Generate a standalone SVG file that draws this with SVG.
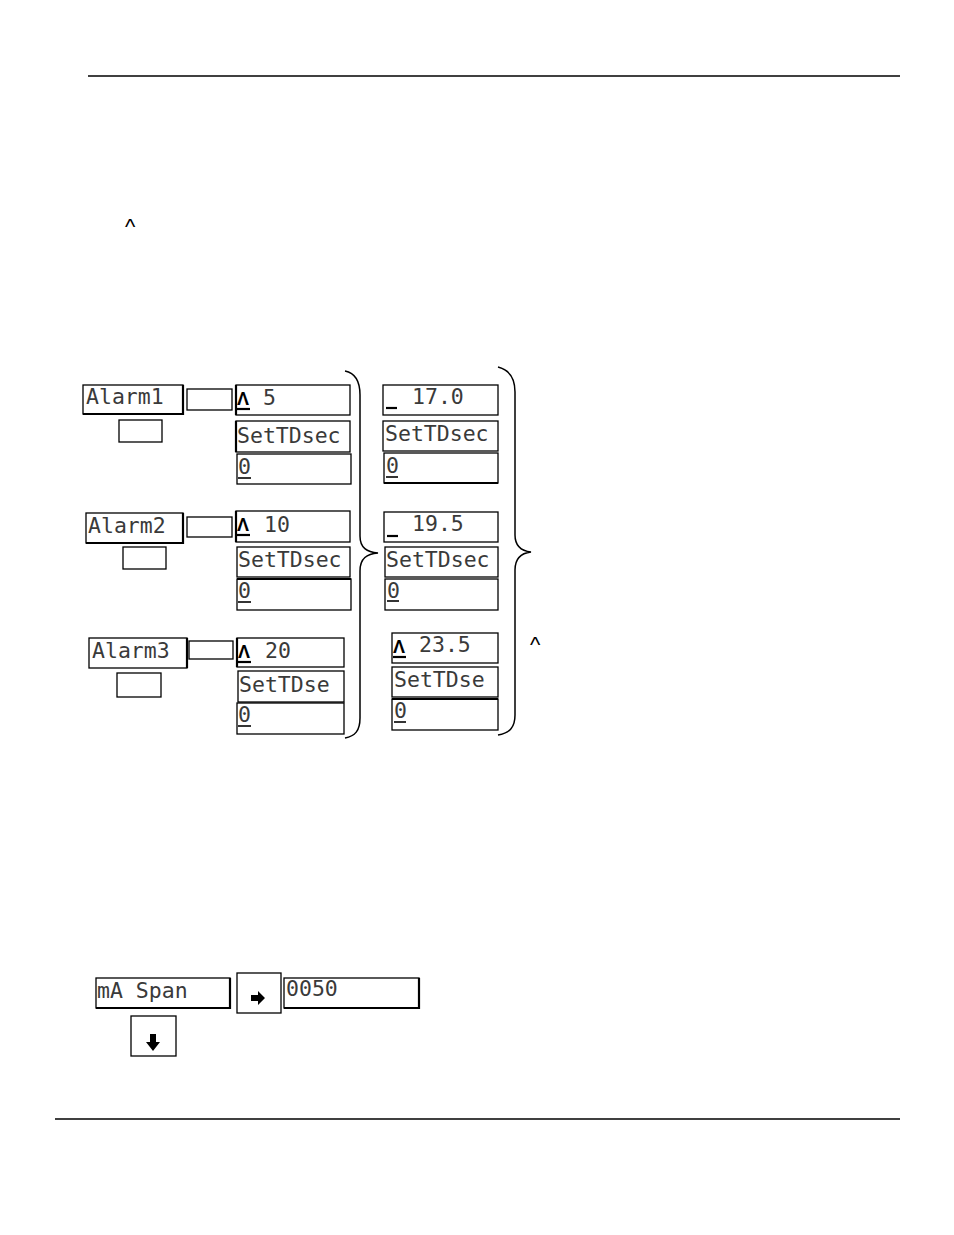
<svg xmlns="http://www.w3.org/2000/svg" width="954" height="1235" viewBox="0 0 954 1235">
<style>
.bx{fill:none;stroke:#000;stroke-width:1.3}
.sh{fill:none;stroke:#000;stroke-width:2.2}
.lcd{font-family:"DejaVu Sans Mono","Liberation Mono",monospace;font-size:21.5px;fill:#3a3a3a}
.up{font-family:"Liberation Sans",Arial,sans-serif;font-size:18px;font-weight:bold;fill:#000}
.car{font-family:"Liberation Sans",Arial,sans-serif;font-size:22px;fill:#000}
.ul{stroke:#000;stroke-width:1.6}
.ulb{stroke:#000;stroke-width:2.2}
.br{fill:none;stroke:#000;stroke-width:1.5}
</style>
<line x1="88" y1="76" x2="900" y2="76" stroke="#000" stroke-width="1.3"/>
<line x1="55" y1="1119" x2="900" y2="1119" stroke="#000" stroke-width="1.3"/>
<text class="car" x="125" y="234">^</text>
<text class="car" x="530" y="652">^</text>

<g id="alarm1">
<rect class="bx" x="83" y="385" width="100" height="29"/>
<polyline class="sh" points="183,385 183,414 83,414"/>
<text class="lcd" x="86" y="404">Alarm1</text>
<rect class="bx" x="187" y="389" width="45" height="21"/>
<rect class="bx" x="119" y="420" width="43" height="22"/>
</g>
<g id="a1-set">
<rect class="bx" x="236" y="385" width="114" height="30"/>
<line class="sh" x1="236" y1="385" x2="236" y2="415"/>
<text class="up" x="237" y="405">Λ</text><line class="ulb" x1="237" y1="409" x2="250" y2="409"/>
<text class="lcd" x="263" y="405">5</text>
<rect class="bx" x="236" y="421" width="114" height="31"/>
<line class="sh" x1="236" y1="421" x2="236" y2="452"/>
<text class="lcd" x="237" y="443">SetTDsec</text>
<rect class="bx" x="237" y="454" width="114" height="30"/>
<text class="lcd" x="238" y="474">0</text><line class="ul" x1="238" y1="478" x2="251" y2="478"/>
</g>

<g id="alarm2">
<rect class="bx" x="86" y="513" width="97" height="30"/>
<polyline class="sh" points="183,513 183,543 86,543"/>
<text class="lcd" x="88" y="533">Alarm2</text>
<rect class="bx" x="187" y="517" width="45" height="20"/>
<rect class="bx" x="123" y="547" width="43" height="22"/>
</g>
<g id="a2-set">
<rect class="bx" x="236" y="511" width="114" height="31"/>
<line class="sh" x1="236" y1="511" x2="236" y2="542"/>
<text class="up" x="237" y="531">Λ</text><line class="ulb" x1="237" y1="535" x2="250" y2="535"/>
<text class="lcd" x="264" y="532">10</text>
<rect class="bx" x="237" y="547" width="113" height="30"/>
<text class="lcd" x="238" y="567">SetTDsec</text>
<rect class="bx" x="237" y="579" width="114" height="31"/>
<line class="sh" x1="237" y1="579" x2="351" y2="579"/>
<text class="lcd" x="238" y="598">0</text><line class="ul" x1="238" y1="602" x2="251" y2="602"/>
</g>

<g id="alarm3">
<rect class="bx" x="89" y="638" width="98" height="30"/>
<line class="sh" x1="187" y1="638" x2="187" y2="668"/>
<text class="lcd" x="92" y="658">Alarm3</text>
<rect class="bx" x="189" y="641" width="44" height="18"/>
<rect class="bx" x="117" y="673" width="44" height="24"/>
</g>
<g id="a3-set">
<rect class="bx" x="237" y="638" width="107" height="29"/>
<line class="sh" x1="237" y1="638" x2="237" y2="667"/>
<text class="up" x="238" y="658">Λ</text><line class="ulb" x1="238" y1="662" x2="251" y2="662"/>
<text class="lcd" x="265" y="658">20</text>
<rect class="bx" x="238" y="671" width="106" height="31"/>
<text class="lcd" x="239" y="692">SetTDse</text>
<rect class="bx" x="237" y="703" width="107" height="31"/>
<text class="lcd" x="238" y="722">0</text><line class="ul" x1="238" y1="726" x2="251" y2="726"/>
</g>

<g id="r1">
<rect class="bx" x="383" y="385" width="115" height="30"/>
<line class="ulb" x1="386" y1="408" x2="397" y2="408"/>
<text class="lcd" x="412" y="404">17.0</text>
<rect class="bx" x="383" y="421" width="115" height="30"/>
<text class="lcd" x="385" y="441">SetTDsec</text>
<rect class="bx" x="384" y="453" width="114" height="30"/>
<line class="sh" x1="384" y1="483" x2="498" y2="483"/>
<text class="lcd" x="386" y="473">0</text><line class="ul" x1="386" y1="477" x2="398" y2="477"/>
</g>
<g id="r2">
<rect class="bx" x="384" y="512" width="114" height="30"/>
<line class="ulb" x1="387" y1="536" x2="398" y2="536"/>
<text class="lcd" x="412" y="531">19.5</text>
<rect class="bx" x="385" y="547" width="113" height="30"/>
<text class="lcd" x="386" y="567">SetTDsec</text>
<rect class="bx" x="385" y="579" width="113" height="31"/>
<text class="lcd" x="387" y="598">0</text><line class="ul" x1="387" y1="601" x2="399" y2="601"/>
</g>
<g id="r3">
<rect class="bx" x="392" y="633" width="106" height="30"/>
<text class="up" x="393" y="653">Λ</text><line class="ulb" x1="393" y1="657" x2="406" y2="657"/>
<text class="lcd" x="419" y="652">23.5</text>
<rect class="bx" x="392" y="667" width="106" height="30"/>
<text class="lcd" x="394" y="687">SetTDse</text>
<rect class="bx" x="392" y="699" width="106" height="31"/>
<line class="sh" x1="392" y1="699" x2="498" y2="699"/>
<text class="lcd" x="394" y="718">0</text><line class="ul" x1="394" y1="722" x2="406" y2="722"/>
</g>

<g id="connectors">
<path class="br" d="M345,371 C355,373 360,381 360,395 L360,536 C360,548 367,552 378,553 C367,554 360,558 360,571 L360,718 C360,731 355,736 345,738"/>
<path class="br" d="M498,367 C510,370 515,378 515,392 L515,535 C515,547 522,551 531,552 C522,553 515,557 515,570 L515,715 C515,727 510,733 498,735"/>
</g>

<g id="maspan">
<rect class="bx" x="96" y="978" width="134" height="30"/>
<polyline class="sh" points="230,978 230,1008 96,1008"/>
<text class="lcd" x="97" y="998">mA Span</text>
</g>
<g id="right-key">
<rect class="bx" x="237" y="973" width="44" height="40"/>
<polygon points="251,995 258,995 258,991 265,998 258,1005 258,1001 251,1001" fill="#000"/>
</g>
<g id="value">
<rect class="bx" x="284" y="978" width="135" height="30"/>
<polyline class="sh" points="419,978 419,1008 284,1008"/>
<text class="lcd" x="286" y="996">0050</text>
</g>
<g id="down-key">
<rect class="bx" x="131" y="1016" width="45" height="40"/>
<polygon points="150,1034 156,1034 156,1042 160,1042 153,1051 146,1042 150,1042" fill="#000"/>
</g>
</svg>
